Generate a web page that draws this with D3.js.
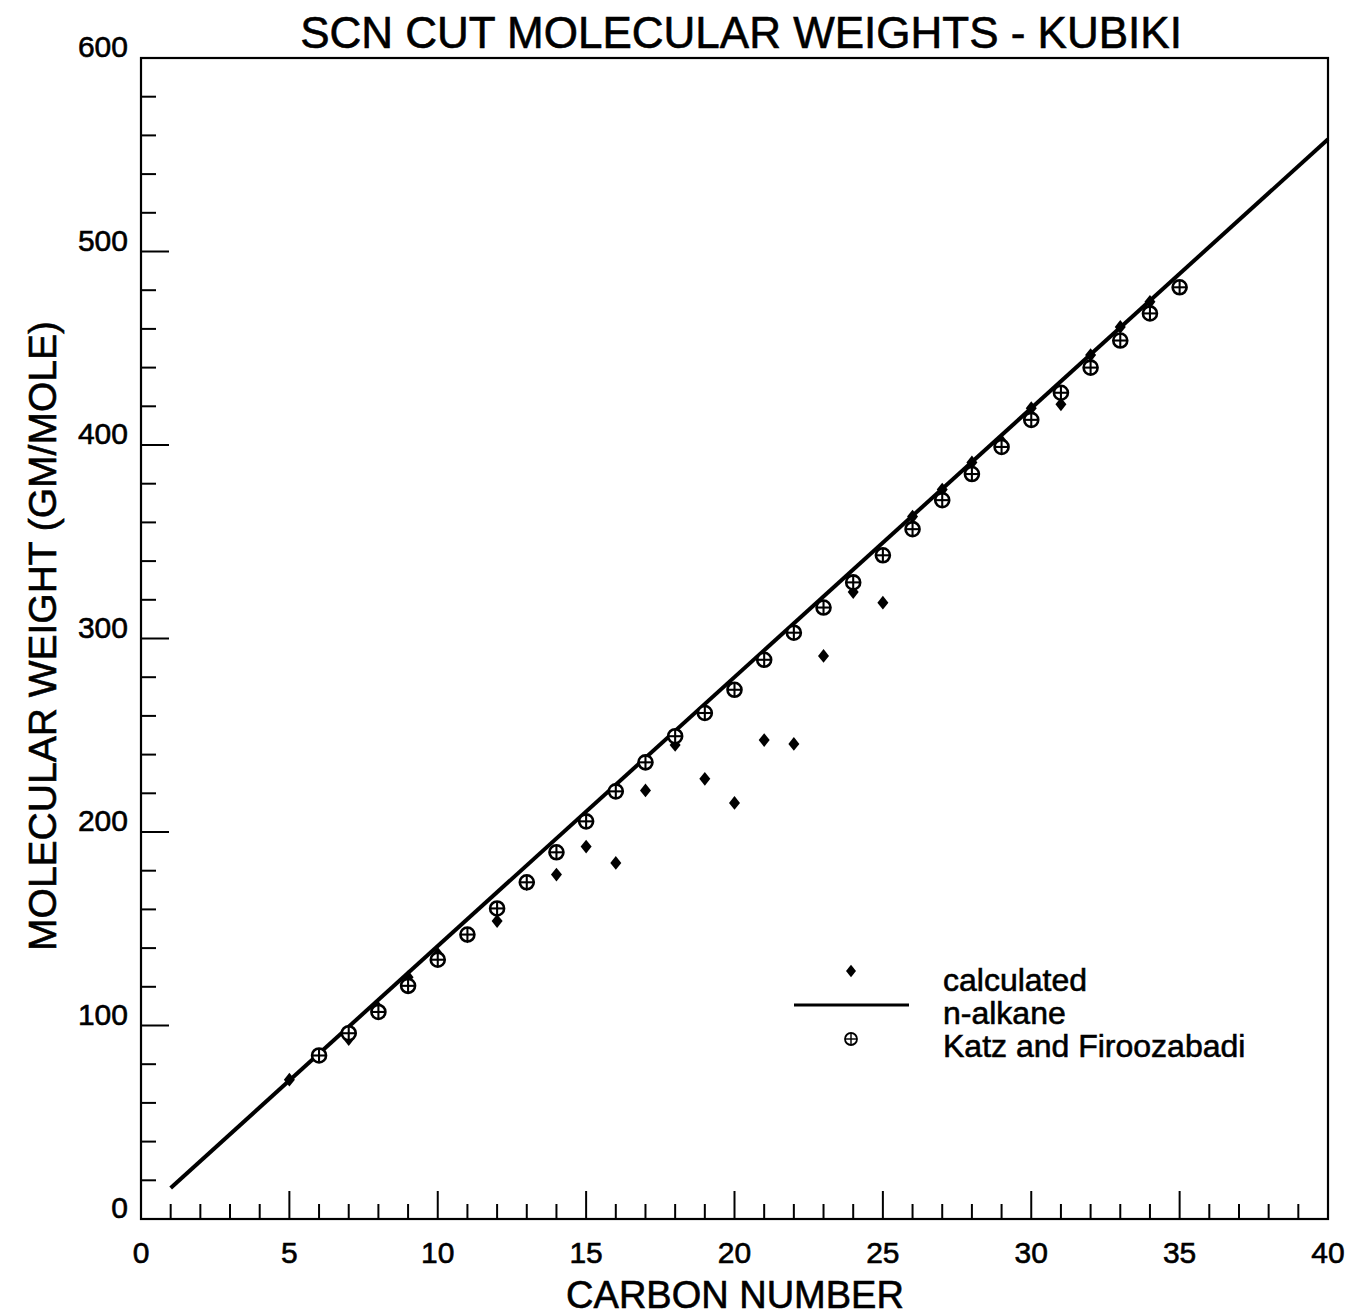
<!DOCTYPE html>
<html><head><meta charset="utf-8">
<script src="https://cdn.jsdelivr.net/npm/d3@7"></script>
<style>body{margin:0;background:#fff}svg{display:block}text{font-family:"Liberation Sans",Arial,sans-serif;fill:#000;stroke:#000;stroke-width:0.6px}</style>
</head><body>
<script>
const title = "SCN CUT MOLECULAR WEIGHTS - KUBIKI";
const xLabel = "CARBON NUMBER";
const yLabel = "MOLECULAR WEIGHT (GM/MOLE)";
const xTicks = [0,5,10,15,20,25,30,35,40];
const yTicks = [0,100,200,300,400,500,600];
// n-alkane line endpoints
const alkaneC = [1, 40];
const alkaneMW = [16, 558];
// Katz and Firoozabadi
const katzC = [6,7,8,9,10,11,12,13,14,15,16,17,18,19,20,21,22,23,24,25,26,27,28,29,30,31,32,33,34,35];
const katzMW = [84.5,96,107,120.5,134,147,160.5,174,189.5,205.5,221,236,249.5,261.5,273.5,289,303,316,329,343,356.5,371.5,385,399,413,427,440,454,468,481.5];
// calculated
const calcC = [5,6,7,8,9,10,11,12,13,14,15,16,17,18,19,20,21,22,23,24,25,26,27,28,29,30,31,32,33,34];
const calcMW = [72,84,93,109,125,137,146,154,173,178,192.5,184,221.5,245,227.5,215,247.5,245.5,291,324,318.5,363,377,391,402,419,421,446.5,461,474];
const legendLabels = ["calculated","n-alkane","Katz and Firoozabadi"];

const W=1358,H=1316;
const svg=d3.select("body").append("svg").attr("width",W).attr("height",H);
const x=d3.scaleLinear().domain([0,40]).range([141,1328]);
const y=d3.scaleLinear().domain([0,600]).range([1219,58]);

// frame
svg.append("rect").attr("x",x(0)).attr("y",y(600)).attr("width",x(40)-x(0)).attr("height",y(0)-y(600))
  .attr("fill","none").attr("stroke","#000").attr("stroke-width",2.2);

// x ticks (inward)
const xMinor=d3.range(1,40);
svg.append("g").selectAll("line").data(xMinor).join("line")
  .attr("x1",d=>x(d)).attr("x2",d=>x(d)).attr("y1",y(0))
  .attr("y2",d=>y(0)-(d%5===0?28:15)).attr("stroke","#000").attr("stroke-width",2);
// y ticks
const yMinor=d3.range(20,600,20);
svg.append("g").selectAll("line").data(yMinor).join("line")
  .attr("y1",d=>y(d)).attr("y2",d=>y(d)).attr("x1",x(0))
  .attr("x2",d=>x(0)+(d%100===0?28:15)).attr("stroke","#000").attr("stroke-width",2);

svg.append("g").selectAll("text").data(xTicks).join("text")
  .attr("x",d=>x(d)).attr("y",1263).attr("text-anchor","middle")
  .attr("font-size",30).text(d=>d);
svg.append("g").selectAll("text").data(yTicks).join("text")
  .attr("x",128).attr("y",d=>y(d)-1).attr("text-anchor","end")
  .attr("font-size",30).text(d=>d);

svg.append("text").attr("x",741).attr("y",48).attr("text-anchor","middle").attr("font-size",44).text(title);
svg.append("text").attr("x",735).attr("y",1308).attr("text-anchor","middle").attr("font-size",38).text(xLabel);
svg.append("text").attr("transform","translate(56,636) rotate(-90)").attr("text-anchor","middle").attr("font-size",39).text(yLabel);

// n-alkane line
const lineData=alkaneC.map((c,i)=>[c,alkaneMW[i]]);
svg.append("path").datum(lineData).attr("d",d3.line().x(d=>x(d[0])).y(d=>y(d[1])))
  .attr("stroke","#000").attr("stroke-width",4).attr("fill","none");

// calculated diamonds
const diamond=(s)=>`M0,${-s*1.25}L${s},0L0,${s*1.25}L${-s},0Z`;
svg.append("g").selectAll("path").data(calcC.map((c,i)=>[c,calcMW[i]])).join("path")
  .attr("transform",d=>`translate(${x(d[0])},${y(d[1])})`).attr("d",diamond(5.5)).attr("fill","#000");

// Katz circles with cross
function circPlus(g,r,sw){
  g.append("circle").attr("r",r).attr("fill","#fff").attr("stroke","#000").attr("stroke-width",sw);
  g.append("line").attr("x1",-r).attr("x2",r).attr("stroke","#000").attr("stroke-width",sw*0.8);
  g.append("line").attr("y1",-r).attr("y2",r).attr("stroke","#000").attr("stroke-width",sw*0.8);
}
svg.append("g").selectAll("g").data(katzC.map((c,i)=>[c,katzMW[i]])).join("g")
  .attr("transform",d=>`translate(${x(d[0])},${y(d[1])})`).each(function(){circPlus(d3.select(this),7,2.6);});

// legend
const lg=svg.append("g");
lg.append("path").attr("transform","translate(851,971)").attr("d",diamond(5)).attr("fill","#000");
lg.append("line").attr("x1",794).attr("x2",909).attr("y1",1005).attr("y2",1005).attr("stroke","#000").attr("stroke-width",3);
circPlus(lg.append("g").attr("transform","translate(851,1039)"),6,1.8);
lg.selectAll("text").data(legendLabels).join("text")
  .attr("x",943).attr("y",(d,i)=>[991,1024,1057][i]).attr("font-size",32).text(d=>d);
</script>
</body></html>
